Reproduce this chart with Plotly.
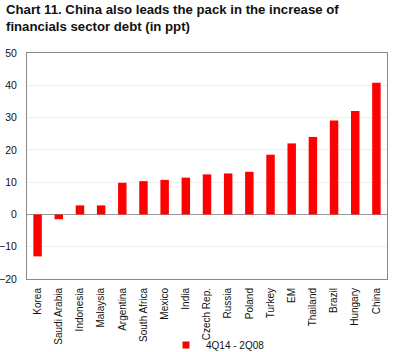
import plotly.graph_objects as go

countries = ["Korea", "Saudi Arabia", "Indonesia", "Malaysia", "Argentina", "South Africa",
             "Mexico", "India", "Czech Rep.", "Russia", "Poland", "Turkey", "EM",
             "Thailand", "Brazil", "Hungary", "China"]
values = [-13.0, -1.5, 2.8, 2.8, 9.8, 10.3, 10.7, 11.4, 12.4, 12.7, 13.2, 18.5, 22.0,
          24.0, 29.1, 32.0, 40.8]
series_name = "4Q14 - 2Q08"
y_ticks = [-20, -10, 0, 10, 20, 30, 40, 50]
title_text = "<b>Chart 11. China also leads the pack in the increase of<br>financials sector debt (in ppt)</b>"

fig = go.Figure()
fig.add_trace(go.Bar(x=countries, y=values, name=series_name, marker_color="#ff0000",
                     marker_line_width=0, width=0.4, showlegend=False))
# legend entry with a small square symbol, like the reference
fig.add_trace(go.Scatter(x=[None], y=[None], mode="markers", name=series_name,
                         marker=dict(symbol="square", size=7, color="#ff0000"), showlegend=True))

fig.update_layout(
    width=400, height=352,
    margin=dict(l=27, r=13, t=53, b=73),
    paper_bgcolor="white", plot_bgcolor="white",
    font=dict(family="Liberation Sans, Arial, sans-serif", size=10, color="#111"),
    showlegend=True,
    legend=dict(orientation="h", xref="container", yref="container", x=166 / 400,
                xanchor="left", y=(352 - 345) / 352, yanchor="middle",
                font=dict(size=10), itemwidth=30, bgcolor="rgba(0,0,0,0)"),
    annotations=[dict(text=title_text, xref="paper", yref="paper", x=(4 - 27) / 360,
                      y=(279 - 0) / 226, xanchor="left", yanchor="top", align="left",
                      showarrow=False,
                      font=dict(family="Liberation Sans, Arial", size=13.2, color="#111"))],
)
fig.update_xaxes(showline=True, linecolor="#888", linewidth=1, mirror=True, tickangle=-90,
                 ticks="", showgrid=False, automargin=False, ticklabelstandoff=4,
                 tickfont=dict(size=10))
fig.update_yaxes(range=[-20, 50], tickvals=y_ticks, showline=True, linecolor="#888", linewidth=1,
                 mirror=True, gridcolor="#eeeeee", zeroline=True, zerolinecolor="#999",
                 zerolinewidth=1, ticks="", ticklabelstandoff=7, automargin=False,
                 tickfont=dict(size=10.5))

fig.write_html("out.html")
